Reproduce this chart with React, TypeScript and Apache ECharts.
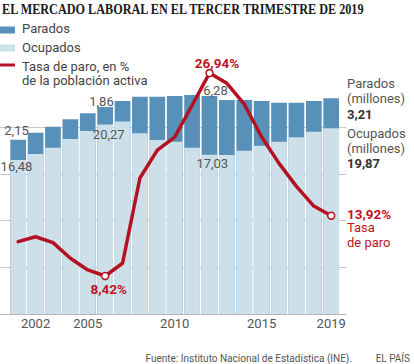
import React, { useEffect, useRef } from "react";
import * as echarts from "echarts";

const years = [2001, 2002, 2003, 2004, 2005, 2006, 2007, 2008, 2009, 2010, 2011, 2012, 2013, 2014, 2015, 2016, 2017, 2018, 2019];
const ocupados = [16.48, 17.11, 17.79, 18.72, 19.57, 20.27, 20.58, 19.33, 18.61, 18.43, 17.79, 17.03, 17.0, 17.47, 18.0, 18.43, 18.9, 19.5, 19.87];
const parados = [2.15, 2.28, 2.24, 2.1, 1.9, 1.86, 2.2, 3.91, 4.63, 4.89, 5.63, 6.28, 5.89, 5.42, 4.78, 4.17, 3.7, 3.28, 3.21];
const tasa = [11.55, 12.0, 11.46, 10.04, 8.97, 8.42, 9.58, 17.36, 19.9, 21.1, 24.0, 26.94, 26.0, 24.1, 21.1, 18.7, 16.6, 14.8, 13.92];
const yearTicks = [2002, 2005, 2010, 2015, 2019];
const highlightYears = [2006, 2012, 2019];

const C_PAR = "#5790b8";
const C_OCU = "#cde0ea";
const C_LINE = "#b41220";
const C_RED = "#c0141f";
const C_TXT = "#555";
const SANS = "Roboto, 'Noto Sans', sans-serif";

const fmt = (v: number) => v.toFixed(2).replace(".", ",");

export default function App() {
  const ref = useRef<HTMLDivElement>(null);
  useEffect(() => {
    document.body.style.margin = "0";
    const chart = echarts.init(ref.current!, null, { renderer: "svg" });
    const option: any = {
      animation: false,
      grid: { left: 0, right: 68, top: 33.5, bottom: 50, containLabel: false, outerBoundsMode: "none" },
      xAxis: {
        type: "value",
        min: 1999.953,
        max: 2019.851,
        axisLine: { show: true, lineStyle: { color: "#b5b5b5", width: 1 } },
        axisTick: { show: false },
        splitLine: { show: false },
        axisLabel: {
          customValues: yearTicks,
          formatter: (v: number) => String(v),
          color: C_TXT,
          fontSize: 13,
          fontFamily: SANS,
          margin: 3,
        },
      },
      yAxis: [
        {
          type: "value",
          min: 0,
          max: 30,
          interval: 5,
          axisLine: { show: false },
          axisTick: { show: false },
          axisLabel: { show: false },
          splitLine: {
            show: true,
            lineStyle: {
              width: 1,
              color: ["rgba(0,0,0,0)", "#c8c8c8", "#c8c8c8", "#c8c8c8", "#c8c8c8", "rgba(0,0,0,0)", "rgba(0,0,0,0)"],
            },
          },
        },
        { type: "value", min: 4.95, max: 30.55, show: false, splitLine: { show: false } },
      ],
      series: [
        {
          name: "Parados",
          type: "bar",
          barWidth: 15.7,
          barGap: "-100%",
          itemStyle: { color: C_PAR },
          // parados stacked on top of ocupados: bar top = ocupados + parados
          data: years.map((y, i) => [y, ocupados[i] + parados[i]]),
          z: 2,
        },
        {
          name: "Ocupados",
          type: "bar",
          barWidth: 15.7,
          barGap: "-100%",
          itemStyle: { color: C_OCU },
          data: years.map((y, i) => [y, ocupados[i]]),
          z: 2,
        },
        {
          name: "Tasa de paro",
          type: "line",
          yAxisIndex: 1,
          symbol: "none",
          clip: false,
          lineStyle: { color: C_LINE, width: 3.5, join: "round", cap: "round" },
          data: years.map((y, i) => [y, tasa[i]]),
          z: 4,
        },
        {
          type: "scatter",
          yAxisIndex: 1,
          symbol: "circle",
          symbolSize: 7,
          clip: false,
          itemStyle: { color: "#fff", borderColor: C_LINE, borderWidth: 1.5, opacity: 1 },
          data: highlightYears.map((y) => [y, tasa[years.indexOf(y)]]),
          z: 5,
        },
      ],
    };
    chart.setOption(option);

    const pBar = (y: number, v: number) => chart.convertToPixel({ seriesIndex: 0 }, [y, v]) as number[];
    const pRate = (y: number, v: number) => chart.convertToPixel({ seriesIndex: 2 }, [y, v]) as number[];
    const idx = (y: number) => years.indexOf(y);

    const txt = (text: string, x: number, y: number, opts: any = {}) => ({
      type: "text",
      x,
      y,
      z: opts.z ?? 10,
      silent: true,
      scaleX: opts.scaleX ?? 1,
      style: {
        text,
        fill: opts.fill ?? C_TXT,
        font: `${opts.weight ?? "normal"} ${opts.size ?? 13}px ${opts.family ?? SANS}`,
        align: opts.align ?? "center",
        verticalAlign: "middle",
      },
    });

    const i01 = idx(2001), i06 = idx(2006), i12 = idx(2012), i19 = idx(2019);
    const a01t = pBar(2001, ocupados[i01] + parados[i01]);
    const a01o = pBar(2001, ocupados[i01]);
    const a06t = pBar(2006, ocupados[i06] + parados[i06]);
    const a06o = pBar(2006, ocupados[i06]);
    const a12t = pBar(2012, ocupados[i12] + parados[i12]);
    const a12o = pBar(2012, ocupados[i12]);
    const r06 = pRate(2006, tasa[i06]);
    const r12 = pRate(2012, tasa[i12]);
    const r19 = pRate(2019, tasa[i19]);

    const RX = 347;
    const graphic: any[] = [
      txt("EL MERCADO LABORAL EN EL TERCER TRIMESTRE DE 2019", 2, 9.5, {
        align: "left",
        weight: "bold",
        size: 14,
        scaleX: 0.872,
        family: "'Liberation Serif', 'DejaVu Serif', serif",
        fill: "#1a1a1a",
      }),
      { type: "rect", shape: { x: 0, y: 26.5, width: 15, height: 7 }, style: { fill: C_PAR }, z: 10 },
      { type: "rect", shape: { x: 0, y: 44.5, width: 15, height: 7 }, style: { fill: C_OCU }, z: 10 },
      { type: "line", shape: { x1: 0, y1: 65, x2: 15, y2: 65 }, style: { stroke: C_LINE, lineWidth: 3 }, z: 10 },
      txt("Parados", 22, 28.5, { align: "left", fill: "#444" }),
      txt("Ocupados", 22, 47, { align: "left", fill: "#444" }),
      txt("Tasa de paro, en %", 22, 66.5, { align: "left", fill: "#444" }),
      txt("de la población activa", 22, 80.5, { align: "left", fill: "#444" }),

      txt(fmt(parados[i01]), a01t[0] - 1.7, a01t[1] - 9, { z: 3 }),
      txt(fmt(ocupados[i01]), a01o[0] - 1.7, a01o[1] + 7, { z: 3 }),
      txt(fmt(parados[i06]), a06t[0] - 3.7, a06t[1] - 5.4, { z: 3 }),
      txt(fmt(ocupados[i06]), a06o[0] + 3.6, a06o[1] + 10.5, { z: 3 }),
      txt(fmt(parados[i12]), a12t[0] + 6, a12t[1] - 5.5, { z: 3 }),
      txt(fmt(ocupados[i12]), a12o[0] + 2.8, a12o[1] + 9.2, { z: 3 }),

      txt(fmt(tasa[i12]) + "%", r12[0] + 7.5, r12[1] - 10.5, { weight: "bold", size: 13.5, fill: C_RED }),
      txt(fmt(tasa[i06]) + "%", r06[0] + 3.5, r06[1] + 13, { weight: "bold", size: 13.5, fill: C_RED }),

      txt("Parados", RX, 83, { align: "left" }),
      txt("(millones)", RX, 98.5, { align: "left" }),
      txt(fmt(parados[i19]), RX, 114, { align: "left", weight: "bold", fill: "#333" }),
      txt("Ocupados", RX, 133.5, { align: "left" }),
      txt("(millones)", RX, 148.5, { align: "left" }),
      txt(fmt(ocupados[i19]), RX, 163.5, { align: "left", weight: "bold", fill: "#333" }),
      txt(fmt(tasa[i19]) + "%", RX, r19[1] - 2, { align: "left", weight: "bold", size: 13.5, fill: C_RED }),
      txt("Tasa", RX, r19[1] + 12, { align: "left", fill: C_RED }),
      txt("de paro", RX, r19[1] + 27, { align: "left", fill: C_RED }),

      txt("Fuente: Instituto Nacional de Estadística (INE).", 352, 358, { align: "right", size: 10, fill: "#555" }),
      txt("EL PAÍS", 410, 358, { align: "right", size: 10, fill: "#555" }),
    ];
    chart.setOption({ graphic });

    return () => chart.dispose();
  }, []);
  return <div ref={ref} style={{ width: 414, height: 364 }} />;
}
